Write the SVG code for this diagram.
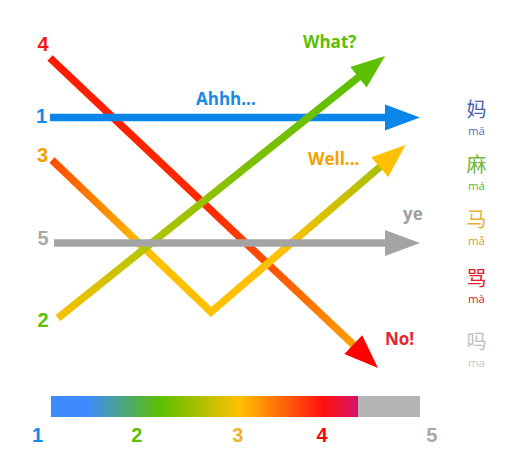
<svg xmlns="http://www.w3.org/2000/svg" width="520" height="466" viewBox="0 0 520 466">
<style>
.num{font-family:"Liberation Sans",Arial,sans-serif;font-weight:bold;font-size:20px;text-anchor:middle}
.lbl{font-family:"Open Sans","Liberation Sans",sans-serif;font-weight:bold;font-size:17px}
.han{font-family:"Noto Sans CJK SC","Noto Sans",sans-serif;font-size:20px;text-anchor:middle}
.py{font-family:"Open Sans","Noto Sans",sans-serif;font-size:11.5px;text-anchor:middle}
.ln{fill:none;stroke-width:7.5;stroke-linecap:butt;stroke-linejoin:miter}
</style>
<defs>
<linearGradient id="g4" gradientUnits="userSpaceOnUse" x1="50" y1="58" x2="354" y2="345">
<stop offset="0" stop-color="#ff1a00"/><stop offset="0.55" stop-color="#ff2c00"/><stop offset="0.8" stop-color="#ff6400"/><stop offset="1" stop-color="#ffa000"/>
</linearGradient>
<linearGradient id="g3" gradientUnits="userSpaceOnUse" x1="52" y1="0" x2="381" y2="0">
<stop offset="0" stop-color="#ff4a00"/><stop offset="0.28" stop-color="#ffc000"/><stop offset="0.7" stop-color="#ffc000"/><stop offset="1" stop-color="#a8c000"/>
</linearGradient>
<linearGradient id="g2" gradientUnits="userSpaceOnUse" x1="58" y1="318" x2="359" y2="77">
<stop offset="0" stop-color="#f8c000"/><stop offset="0.3" stop-color="#b4c400"/><stop offset="0.6" stop-color="#80c000"/><stop offset="1" stop-color="#5cbf00"/>
</linearGradient>
<linearGradient id="gbar" x1="0" y1="0" x2="1" y2="0">
<stop offset="0" stop-color="#3d8bff"/><stop offset="0.117" stop-color="#3d8bff"/><stop offset="0.355" stop-color="#5cbf00"/><stop offset="0.616" stop-color="#ffc000"/><stop offset="0.886" stop-color="#ff1010"/><stop offset="1" stop-color="#d4146a"/>
</linearGradient>
</defs>

<g id="connectors">
<g id="tone4">
<path class="ln" stroke="url(#g4)" d="M50,58 L354,345.3"/>
<polygon fill="#ff0000" points="378,368 344.4,354.1 362.2,335.2"/>
</g>
<g id="tone3">
<path class="ln" stroke="url(#g3)" d="M52,160 L211,312 L380.5,166.5"/>
<polygon fill="#ffc000" points="405.5,145 388.2,177 371.2,157.3"/>
</g>
<g id="tone1">
<path class="ln" stroke="#0a86e8" d="M50,117.5 H386"/>
<polygon fill="#0a86e8" points="420,117.5 385,104.5 385,130.5"/>
</g>
<g id="tone2">
<path class="ln" stroke="url(#g2)" d="M58,318 L359.2,76.6"/>
<polygon fill="#5cbf00" points="385,56 366.6,87.4 350.3,67.1"/>
</g>
<g id="tone5">
<path class="ln" stroke="#a4a4a4" d="M54,243 H386"/>
<polygon fill="#a4a4a4" points="420,243 385,230 385,256"/>
</g>
</g>

<g id="start-labels">
<text class="num" x="43" y="51" fill="#f41a14">4</text>
<text class="num" x="41.5" y="123" fill="#1a88e6">1</text>
<text class="num" x="42.5" y="162" fill="#f0a000">3</text>
<text class="num" x="43" y="245" fill="#a8a8a8">5</text>
<text class="num" x="43" y="327" fill="#5cbf00">2</text>
</g>

<g id="end-labels">
<text class="lbl" x="196" y="105" fill="#1a88e6">Ahhh...</text>
<text class="lbl" x="303" y="48" fill="#5cbf00">What?</text>
<text class="lbl" x="308" y="165" fill="#f5a000">Well...</text>
<text class="lbl" x="403" y="220" fill="#a0a0a0">ye</text>
<text class="lbl" x="385" y="345" fill="#e3262d">No!</text>
</g>

<g id="legend-ma1"><text class="han" x="476.5" y="116.5" fill="#4a62b0">妈</text><text class="py" x="476.5" y="135" fill="#5070c0">mā</text></g>
<g id="legend-ma2"><text class="han" x="476.5" y="171.5" fill="#6cb840">麻</text><text class="py" x="476.5" y="190" fill="#60b840">má</text></g>
<g id="legend-ma3"><text class="han" x="476.5" y="227" fill="#e8b030">马</text><text class="py" x="476.5" y="245" fill="#d0a030">mǎ</text></g>
<g id="legend-ma4"><text class="han" x="476.5" y="285.5" fill="#e02030">骂</text><text class="py" x="476.5" y="303" fill="#e02020">mà</text></g>
<g id="legend-ma5"><text class="han" x="476.5" y="348.5" fill="#c0c0c0">吗</text><text class="py" x="476.5" y="367" fill="#c8c8c8">ma</text></g>

<g id="scale-bar">
<rect x="51" y="396" width="307" height="21" fill="url(#gbar)"/>
<rect x="358" y="396" width="62" height="21" fill="#b4b4b4"/>
<text class="num" x="37.5" y="442" fill="#1a88e6">1</text>
<text class="num" x="136.7" y="442" fill="#5cbf00">2</text>
<text class="num" x="237.7" y="442" fill="#f0b030">3</text>
<text class="num" x="322" y="442" fill="#ff0000">4</text>
<text class="num" x="431.7" y="442" fill="#a8a8a8">5</text>
</g>
</svg>
